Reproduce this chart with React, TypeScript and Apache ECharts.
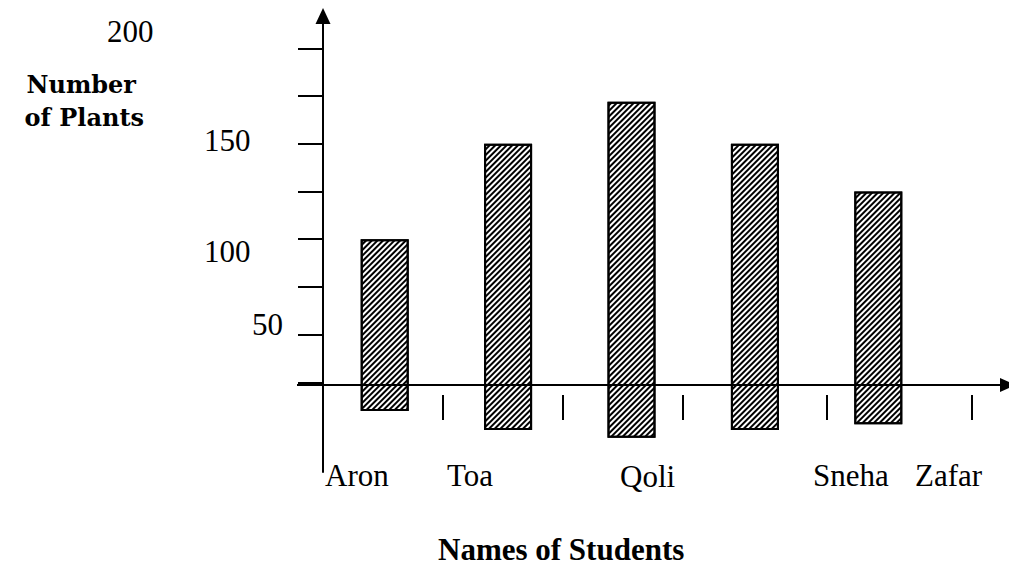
import React, { useEffect, useRef } from "react";
import * as echarts from "echarts";

// ---- data ----
const students = ["Aron", "Toa", "Qoli", "Sneha", "Zafar"];
const plantTops = [100, 150, 172, 150, 125];
const barBottoms = [10, 0, -4, 0, 3];
const yTickValues = [25, 50, 75, 100, 125, 150, 175, 200];
const yLabelTexts = ["200", "150", "100", "50"];
const yAxisTitle = ["Number", "of Plants"];
const xAxisTitle = "Names of Students";

// ---- layout (pixels) ----
const yLabelPos = [
  [107, 31],
  [204, 140],
  [204, 251],
  [252, 324],
];
const nameLabelPos = [
  [325, 475],
  [447, 475],
  [620, 476],
  [813, 475],
  [915, 475],
];
const yTitlePos = [
  [136, 84],
  [144, 117],
];
const sepTickX = [443, 563, 683, 827, 972];

export default function App() {
  const ref = useRef<HTMLDivElement>(null);
  useEffect(() => {
    const chart = echarts.init(ref.current!, null, { renderer: "svg" });
    const heights = plantTops.map((t, i) => t - barBottoms[i]);
    const serif = "'Liberation Serif', 'Times New Roman', serif";
    const graphic: any[] = [];
    // x axis line with arrow
    graphic.push({
      type: "line",
      shape: { x1: 297, y1: 385, x2: 1002, y2: 385 },
      style: { stroke: "#000", lineWidth: 2 },
      z: 10,
    });
    graphic.push({
      type: "polygon",
      shape: { points: [[1000, 378], [1016, 385], [1000, 392]] },
      style: { fill: "#000" },
      z: 10,
    });
    sepTickX.forEach((x) =>
      graphic.push({
        type: "line",
        shape: { x1: x, y1: 395, x2: x, y2: 420 },
        style: { stroke: "#000", lineWidth: 2 },
        z: 10,
      })
    );
    yLabelTexts.forEach((t, i) =>
      graphic.push({
        type: "text",
        x: yLabelPos[i][0],
        y: yLabelPos[i][1],
        style: {
          text: t,
          font: `31px ${serif}`,
          fill: "#000",
          textAlign: "left",
          textVerticalAlign: "middle",
        },
        z: 10,
      })
    );
    students.forEach((t, i) =>
      graphic.push({
        type: "text",
        x: nameLabelPos[i][0],
        y: nameLabelPos[i][1],
        style: {
          text: t,
          font: `31px ${serif}`,
          fill: "#000",
          textAlign: "left",
          textVerticalAlign: "middle",
        },
        z: 10,
      })
    );
    yAxisTitle.forEach((t, i) =>
      graphic.push({
        type: "text",
        x: yTitlePos[i][0],
        y: yTitlePos[i][1],
        style: {
          text: t,
          font: `bold 24px 'DejaVu Serif', serif`,
          fill: "#000",
          textAlign: "right",
          textVerticalAlign: "middle",
        },
        z: 10,
      })
    );
    graphic.push({
      type: "text",
      x: 438,
      y: 549,
      style: {
        text: xAxisTitle,
        font: `bold 31px ${serif}`,
        fill: "#000",
        textAlign: "left",
        textVerticalAlign: "middle",
      },
      z: 10,
    });

    chart.setOption({
      animation: false,
      backgroundColor: "#fff",
      grid: { left: 323, right: 69, top: 16, bottom: 93, containLabel: false },
      xAxis: {
        type: "category",
        data: students,
        axisLine: { show: false },
        axisTick: { show: false },
        axisLabel: { show: false },
        splitLine: { show: false },
      },
      yAxis: {
        type: "value",
        min: -22,
        max: 217,
        axisLine: {
          show: true,
          symbol: ["none", "triangle"],
          symbolSize: [15, 16],
          lineStyle: { color: "#000", width: 2 },
        },
        axisTick: {
          show: true,
          customValues: yTickValues,
          length: 25,
          lineStyle: { color: "#000", width: 2 },
        },
        axisLabel: { show: false },
        splitLine: { show: false },
      },
      series: [
        {
          type: "bar",
          stack: "plants",
          stackStrategy: "all",
          data: barBottoms,
          barWidth: 48,
          silent: true,
          itemStyle: { color: "rgba(0,0,0,0)" },
        },
        {
          type: "bar",
          stack: "plants",
          stackStrategy: "all",
          data: heights,
          barWidth: 48,
          itemStyle: {
            color: "#fff",
            borderColor: "#000",
            borderWidth: 2,
            decal: {
              symbol: "rect",
              symbolSize: 1,
              color: "#000",
              dashArrayX: [1, 0],
              dashArrayY: [2, 2],
              rotation: -Math.PI / 4,
            },
          },
        },
      ],
      graphic,
    });
    return () => chart.dispose();
  }, []);
  return (
    <div
      ref={ref}
      style={{ position: "fixed", left: 0, top: 0, width: 1009, height: 565, background: "#fff" }}
    />
  );
}
